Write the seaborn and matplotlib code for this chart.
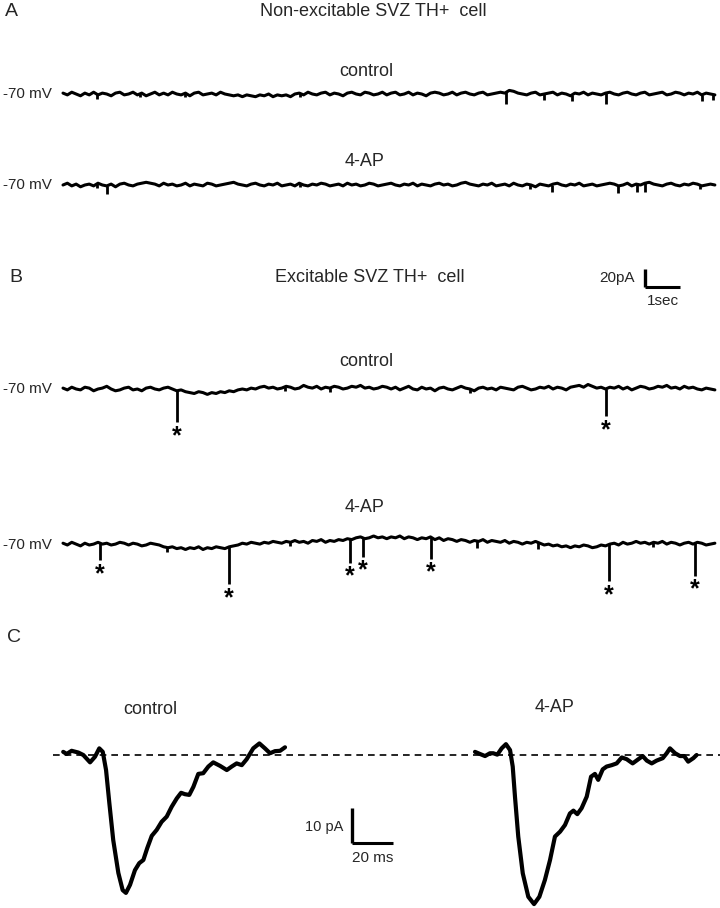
import numpy as np
import seaborn as sns
import matplotlib
matplotlib.use("Agg")
import matplotlib.pyplot as plt

sns.set_style("white")
plt.rcParams["font.family"] = ["Liberation Sans", "DejaVu Sans"]

# ---- long recordings: sampled every 0.125 s, values in pA ----
DT = 0.125

a_control = [1, -1, 2, 0, -2, 1, -1, 2, -1, 1, 0, -2, 1, 2, -1, 0, 2, -1, 1, -2, 0, 2, -1, 1, -1,
             2, 0, -1, 1, -2, 1, 2, -1, 0, 1, -1, 2, 0, -1, -2, -1, -3, -1, -2, -3, -1, -2, 0, -3, -1,
             -2, -1, -3, 0, 1, -1, 2, 0, -1, 1, 2, -1, 1, 0, -2, 1, 2, 0, -1, 2, 1, -1, 0, 2, -1,
             1, 2, -1, 0, 2, -1, 1, 0, -2, 1, 2, 1, -1, 0, 2, -1, 1, 2, 0, -1, 1, 2, -1, 0, 1,
             2, 1, 4, 3, 1, 0, -1, 1, 2, -1, 0, 1, 2, -1, 1, 0, -2, 1, 0, 2, -1, 1, 0, -1, 1,
             2, 0, -1, 1, 2, 0, -1, 1, 2, -1, 0, 1, 2, -1, 0, 2, 1, -1, 1, 0, 2, -1, 1, 0, -1]

a_4ap = [0, 2, -1, 1, -2, 0, 1, -1, 2, 0, -1, 1, -2, 1, 2, 0, -1, 1, 2, 3, 2, 1, -1, 2, 0,
         1, -1, 0, 2, -1, 1, 0, -1, 2, 1, -1, 0, 1, 2, 3, 1, 0, -1, 1, 2, 0, -1, 1, 0, 2,
         -1, 0, 1, -1, 2, 0, -1, 1, 0, 2, 1, -1, 0, 1, -1, 2, 0, 1, -1, 0, 2, 1, -1, 0, 1,
         2, 0, -1, 1, 0, 2, -1, 1, 0, -1, 1, 2, 0, 1, -1, 0, 2, 3, 1, 0, -1, 1, 0, 2, -1,
         0, 1, -1, 2, 0, -1, 1, 0, -2, 1, 0, -1, 1, 2, 0, -1, 1, 0, 2, -1, 0, 1, -1, 0, 1,
         2, 1, -1, 0, 2, -1, 1, 0, 2, 3, 1, 0, -1, 1, 2, 0, -1, 1, 0, 2, 1, -1, 0, 1, 0]

b_control = [1, -1, 2, 0, -1, 2, 1, -2, 0, 1, 3, 0, -2, -1, 1, 2, -1, 0, -2, 1, 2, 0, -1, 1, 2,
             0, -2, -1, -3, -4, -5, -3, -4, -6, -4, -5, -3, -4, -2, -3, -1, 0, -1, 1, 0, 2, 3, 1, 2, 0,
             1, 3, 2, 0, 1, 4, 2, 1, 3, 0, 2, 1, 3, 2, 0, 1, 3, 2, 4, 1, 2, 0, 1, 3, 2,
             0, 2, -1, 1, 3, 0, -1, 2, 0, 1, -2, 1, 2, 0, -1, 1, 3, 1, 0, -2, 1, 2, 0, 1, -1,
             2, 1, 0, -1, 2, 3, 1, -1, 0, 2, 1, 3, 0, 2, 1, -1, 2, 3, 4, 2, 5, 3, 1, 2, 0,
             2, 1, 3, 0, 2, -1, 1, 3, 2, 0, 1, 3, 2, 4, 1, 2, 0, 3, 1, 2, 0, -1, 1, 0, -1]

b_4ap = [2, 0, 3, 1, -1, 2, 0, 1, 3, 1, 2, 0, 1, 3, 2, 0, 2, 1, -1, 0, 2, 1, 0, -2, -3,
         -2, -4, -3, -5, -3, -4, -2, -5, -3, -4, -2, -3, -4, -2, -1, 0, 2, 1, 3, 2, 1, 3, 2, 4, 3,
         2, 4, 3, 5, 3, 4, 2, 5, 4, 6, 3, 5, 4, 6, 5, 7, 6, 8, 9, 7, 8, 10, 8, 9, 7,
         9, 8, 10, 7, 9, 8, 6, 8, 7, 9, 6, 8, 5, 7, 6, 4, 6, 5, 3, 5, 4, 6, 3, 5, 4,
         3, 5, 2, 4, 3, 1, 3, 2, 4, 2, 0, 1, -1, 0, -2, -1, -3, -1, -2, 0, -1, -3, -2, 0, -1,
         1, 2, 0, 3, 1, 2, 4, 2, 3, 1, 3, 2, 4, 1, 3, 2, 0, 2, 3, 1, 3, 2, 0, 1, 2]

# inward events: time (s), amplitude (pA); starred ones are the marked spikes
a_control_ev_t = [0.97, 2.2, 3.49, 6.77, 12.66, 13.74, 14.54, 15.51, 18.26, 18.57]
a_control_ev_a = [5, 4, 4, 4, 13, 7, 7, 12, 7, 6]
a_4ap_ev_t = [0.97, 1.26, 6.77, 13.34, 13.97, 15.86, 16.4, 16.63, 18.2]
a_4ap_ev_a = [5, 9, 4, 5, 8, 8, 9, 10, 4]
b_control_ev_t = [3.26, 6.34, 7.63, 11.63, 15.51]
b_control_ev_a = [35, 5, 4, 4, 30]
b_control_star = [True, False, False, False, True]
b_4ap_ev_t = [1.06, 2.97, 4.74, 6.49, 8.2, 8.57, 10.51, 11.83, 13.57, 15.6, 16.86, 18.06]
b_4ap_ev_a = [19, 5, 41, 4, 26, 21, 24, 8, 7, 41, 5, 36]
b_4ap_star = [True, False, True, False, True, True, True, False, False, True, False, True]

# ---- averaged events (panel C): time in ms, current in pA ----
c_control_t = [0.1, 1.8, 4.2, 7.5, 9.9, 13.2, 15.6, 17.7, 19.4, 21.0, 22.6, 24.5, 27.0, 29.1,
               30.7, 32.7, 35.1, 37.2, 39.2, 41.1, 43.3, 45.7, 48.1, 50.6, 53.0, 55.5, 57.6,
               59.5, 61.6, 63.6, 66.0, 68.4, 70.9, 73.3, 76.6, 79.9, 82.3, 84.7, 87.2, 89.6,
               92.8, 95.8, 98.5, 101.0, 103.4, 105.9, 108.3]
c_control_i = [0.9, 0.3, 1.2, 0.7, 0.0, -2.1, -0.5, 1.9, 0.9, -4.3, -13.7, -24.3, -33.7, -38.6,
               -39.4, -37.1, -32.9, -30.9, -30.0, -26.6, -23.1, -21.4, -19.1, -17.6, -14.8, -12.4,
               -10.8, -11.2, -11.4, -9.1, -5.4, -5.2, -3.3, -2.1, -3.1, -4.3, -3.3, -2.4, -2.9,
               -1.2, 1.9, 3.3, 1.9, 0.5, 1.1, 1.2, 2.2]
c_4ap_t = [0.0, 2.4, 4.9, 7.3, 8.9, 10.9, 13.0, 15.1, 17.1, 18.4, 19.5, 21.1, 23.3, 26.0, 28.8,
           31.4, 34.1, 36.6, 39.0, 41.5, 43.9, 46.3, 48.0, 49.9, 52.0, 54.5, 56.6, 58.5, 60.1,
           62.3, 64.2, 66.7, 69.1, 71.6, 74.0, 76.9, 79.7, 81.8, 83.8, 86.2, 88.6, 91.6, 93.5,
           95.1, 97.6, 100.0, 102.0, 104.0, 106.5, 108.1]
c_4ap_i = [0.9, 0.3, -0.3, 0.5, 0.5, 0.1, 1.9, 3.1, 1.4, -3.3, -11.9, -23.3, -33.8, -40.5, -42.6,
           -40.5, -35.7, -30.0, -23.3, -21.9, -20.0, -16.7, -15.9, -16.9, -15.2, -11.9, -6.2,
           -5.4, -7.1, -4.1, -3.3, -2.9, -2.4, -0.7, -1.2, -2.4, -1.2, -0.3, -1.6, -2.4, -1.6,
           -0.9, 0.5, 1.9, 0.5, -0.3, -0.3, -1.9, -0.9, 0.0]

# ---- layout (pixels) ----
PX_S, PX_PA = 35.0, 0.9          # long traces: 1 s, 1 pA
PX_MS, PX_PA_C = 2.05, 3.5       # panel C: 1 ms, 1 pA
X0 = 63

fig = plt.figure(figsize=(7.2, 9.08), dpi=100)
ax = fig.add_axes([0, 0, 1, 1])
ax.set_xlim(0, 720)
ax.set_ylim(908, 0)
ax.axis("off")


def long_trace(vals, y0, ev_t, ev_a, stars=None):
    t = np.arange(len(vals)) * DT
    xs = X0 + t * PX_S
    ys = y0 - np.array(vals) * PX_PA
    sns.lineplot(x=xs, y=ys, ax=ax, color="black", linewidth=2.2, sort=False, estimator=None)
    for k, (et, ea) in enumerate(zip(ev_t, ev_a)):
        ex = X0 + et * PX_S
        ey = np.interp(ex, xs, ys)
        ax.vlines(ex, ey, ey + ea * PX_PA, color="black", linewidth=2.0)
        if stars is not None and stars[k]:
            ax.text(ex, ey + ea * PX_PA + 14, "*", fontsize=18, fontweight="bold",
                    ha="center", va="center", color="black")
    ax.text(3, y0, "-70 mV", fontsize=11, ha="left", va="center")


# panel A
ax.text(5, 11, "A", fontsize=14, ha="left", va="center")
ax.text(373, 11, "Non-excitable SVZ TH+  cell", fontsize=13, ha="center", va="center")
ax.text(366, 71, "control", fontsize=13, ha="center", va="center")
long_trace(a_control, 94, a_control_ev_t, a_control_ev_a)
ax.text(365, 162, "4-AP", fontsize=13, ha="center", va="center")
long_trace(a_4ap, 185, a_4ap_ev_t, a_4ap_ev_a)

# panel B
ax.text(9, 278, "B", fontsize=14, ha="left", va="center")
ax.text(370, 277, "Excitable SVZ TH+  cell", fontsize=13, ha="center", va="center")
ax.text(366, 361, "control", fontsize=13, ha="center", va="center")
long_trace(b_control, 389, b_control_ev_t, b_control_ev_a, b_control_star)
ax.text(365, 508, "4-AP", fontsize=13, ha="center", va="center")
long_trace(b_4ap, 545, b_4ap_ev_t, b_4ap_ev_a, b_4ap_star)

# scale bar B: 20 pA / 1 s
sb_x, sb_y = 645, 287
ax.plot([sb_x, sb_x], [sb_y, sb_y - 20 * PX_PA], color="black", linewidth=2.4, solid_capstyle="butt")
ax.plot([sb_x, sb_x + 1 * PX_S], [sb_y, sb_y], color="black", linewidth=2.2, solid_capstyle="butt")
ax.text(635, 278, "20pA", fontsize=11, ha="right", va="center")
ax.text(sb_x + 0.5 * PX_S, 301, "1sec", fontsize=11, ha="center", va="center")

# panel C
ax.text(7, 637, "C", fontsize=14, ha="left", va="center")
ax.text(150, 709, "control", fontsize=13, ha="center", va="center")
ax.text(555, 708, "4-AP", fontsize=13, ha="center", va="center")
ax.plot([53, 720], [755, 755], color="black", linewidth=1.2, linestyle=(0, (4, 3)))
for tt, ii, x_start in [(c_control_t, c_control_i, 63), (c_4ap_t, c_4ap_i, 475)]:
    sns.lineplot(x=x_start + np.array(tt) * PX_MS, y=755 - np.array(ii) * PX_PA_C,
                 ax=ax, color="black", linewidth=3.0, sort=False, estimator=None,
                 solid_joinstyle="round", solid_capstyle="round")

# scale bar C: 10 pA / 20 ms
sc_x, sc_y = 352, 843
ax.plot([sc_x, sc_x], [sc_y, sc_y - 10 * PX_PA_C], color="black", linewidth=2.4, solid_capstyle="butt")
ax.plot([sc_x, sc_x + 20 * PX_MS], [sc_y, sc_y], color="black", linewidth=2.2, solid_capstyle="butt")
ax.text(343, 827, "10 pA", fontsize=10.5, ha="right", va="center")
ax.text(sc_x + 10 * PX_MS, 858, "20 ms", fontsize=11, ha="center", va="center")

fig.savefig("out.png", dpi=100)
